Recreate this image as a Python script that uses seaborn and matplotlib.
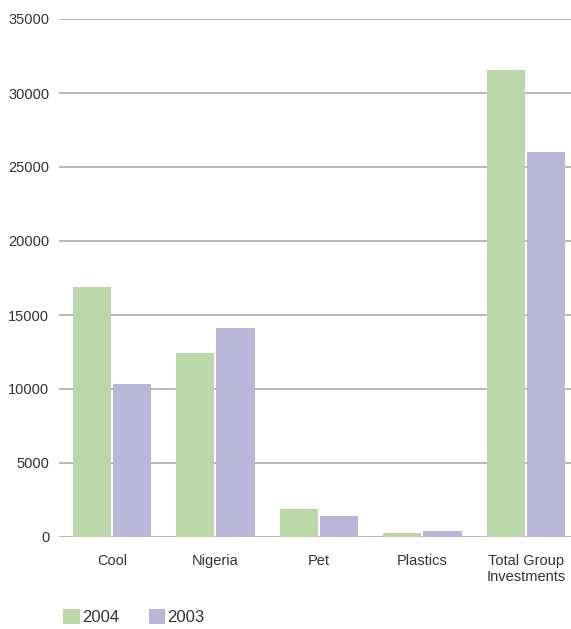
import numpy as np
import pandas as pd
import matplotlib.pyplot as plt
import seaborn as sns
from matplotlib.patches import Patch

categories = ['Cool', 'Nigeria', 'Pet', 'Plastics', 'Total Group\nInvestments']
vals_2004 = [16900, 12450, 1900, 290, 31550]
vals_2003 = [10350, 14120, 1420, 380, 26000]
years = ['2004', '2003']
colors = ['#b9d7a7', '#bab6da']

df = pd.DataFrame({
    'cat': categories * 2,
    'value': vals_2004 + vals_2003,
    'year': ['2004'] * 5 + ['2003'] * 5,
})

sns.set_style('white')
plt.rcParams['font.family'] = ['Liberation Sans', 'DejaVu Sans']

fig = plt.figure(figsize=(5.71, 6.29), dpi=100)
ax = fig.add_axes([59 / 571, 1 - 537 / 629, 1 - 59 / 571, (537 - 19) / 629])

sns.barplot(data=df, x='cat', y='value', hue='year', hue_order=years,
            palette=colors, width=0.78, gap=0.05, saturation=1,
            edgecolor='none', legend=False, ax=ax, zorder=3)

ax.set_ylim(0, 35000)
ax.set_xlim(-0.512, 4.435)
ax.set_yticks(np.arange(0, 35001, 5000))
ax.yaxis.grid(True, color='#b8b8b8', linewidth=1.4, zorder=0)
ax.set_axisbelow(True)
for s in ax.spines.values():
    s.set_visible(False)
ax.tick_params(axis='both', length=0, labelsize=10.5, labelcolor='#333333')
ax.tick_params(axis='y', pad=7)
ax.tick_params(axis='x', pad=12)
ax.set_xlabel('')
ax.set_ylabel('')

# legend below the plot, small squares
handles = [Patch(facecolor=c, edgecolor='none') for c in colors]
fig.legend(handles, years, loc='center left',
           bbox_to_anchor=(63 / 571, 1 - 617 / 629),
           ncol=2, frameon=False, fontsize=12, handlelength=1.0,
           handleheight=1.0, handletextpad=0.12, columnspacing=1.8,
           borderpad=0, borderaxespad=0, labelcolor='#333333')

fig.savefig('out.png', dpi=100)
